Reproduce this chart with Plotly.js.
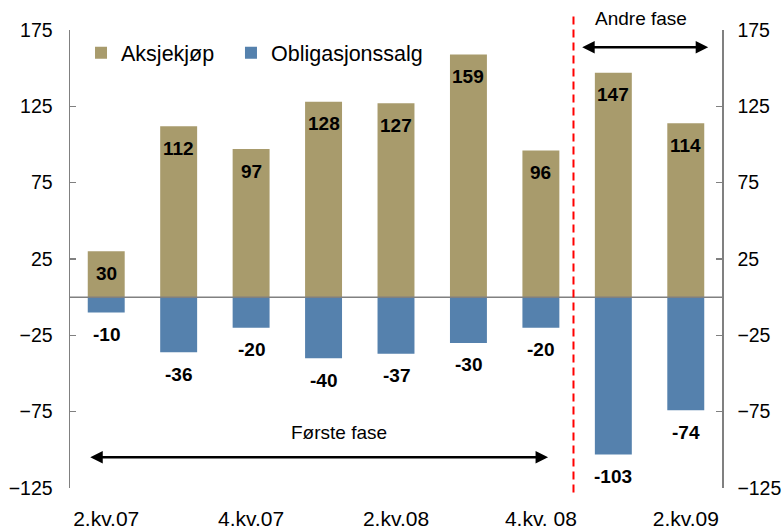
<!DOCTYPE html>
<html><head><meta charset="utf-8">
<script src="https://cdn.plot.ly/plotly-3.0.1.min.js"></script>
<style>html,body{margin:0;padding:0;background:#fff}#chart{width:783px;height:531px}</style>
</head><body><div id="chart"></div>
<script>
const categories = ["2.kv.07","3.kv.07","4.kv.07","1.kv.08","2.kv.08","3.kv.08","4.kv. 08","1.kv.09","2.kv.09"];
const aksjekjop = [30, 112, 97, 128, 127, 159, 96, 147, 114];
const obligasjonssalg = [-10, -36, -20, -40, -37, -30, -20, -103, -74];
const tickLabelIdx = [0, 2, 4, 6, 8];
const yTicks = [175, 125, 75, 25, -25, -75, -125];

const FONT = "Liberation Sans, Arial, sans-serif";
const tan = "#A89B6C", blue = "#5581AD";
const xIdx = categories.map((c, i) => i);

const traces = [
  {type: "bar", name: "Aksjekjøp", x: xIdx, y: aksjekjop, marker: {color: tan}, hoverinfo: "y", legend: "legend"},
  {type: "bar", name: "Obligasjonssalg", x: xIdx, y: obligasjonssalg, marker: {color: blue}, hoverinfo: "y", legend: "legend2"},
  {type: "scatter", x: [0], y: [0], yaxis: "y2", mode: "markers", marker: {opacity: 0}, showlegend: false, hoverinfo: "skip"}
];

const annotations = [];
[aksjekjop, obligasjonssalg].forEach(series => {
  series.forEach((v, i) => annotations.push({
    x: i, y: v, xref: "x", yref: "y", text: String(v), showarrow: false,
    yshift: -22, font: {family: FONT, size: 19, color: "#000", weight: "bold"}
  }));
});
annotations.push(
  {x: 6.57, y: 163.7, ax: 8.33, ay: 163.7, xref: "x", yref: "y", axref: "x", ayref: "y",
   text: "", showarrow: true, arrowside: "end+start", arrowhead: 2, arrowsize: 1, arrowwidth: 2.5, arrowcolor: "#000"},
  {x: 7.386, y: 175, xref: "x", yref: "y", text: "Andre fase", showarrow: false, yshift: 12,
   font: {family: FONT, size: 19, color: "#000"}},
  {x: -0.22, y: -104.8, ax: 6.12, ay: -104.8, xref: "x", yref: "y", axref: "x", ayref: "y",
   text: "", showarrow: true, arrowside: "end+start", arrowhead: 2, arrowsize: 1, arrowwidth: 2.5, arrowcolor: "#000"},
  {x: 3.21, y: -88.4, xref: "x", yref: "y", text: "Første fase", showarrow: false,
   font: {family: FONT, size: 19, color: "#000"}}
);

const yAxisCommon = {
  range: [-125, 175], tickvals: yTicks, ticks: "inside", ticklen: 6, tickcolor: "#808080", tickwidth: 1.5,
  showline: true, linecolor: "#808080", linewidth: 1.5, showgrid: false, zeroline: false,
  tickfont: {family: FONT, size: 19.5, color: "#000"}
};

const legendCommon = {orientation: "h", y: 0.995, xanchor: "left", yanchor: "top",
  font: {family: FONT, size: 21.5, color: "#000"}, itemwidth: 30, bgcolor: "rgba(0,0,0,0)"};

const layout = {
  width: 783, height: 531,
  margin: {l: 70, r: 61, t: 30, b: 43},
  paper_bgcolor: "#fff", plot_bgcolor: "#fff",
  barmode: "relative", bargap: 0.49,
  showlegend: true,
  legend: Object.assign({}, legendCommon, {x: 0.0169}),
  legend2: Object.assign({}, legendCommon, {x: 0.2469}),
  xaxis: {range: [-0.5, 8.5], tickvals: tickLabelIdx, ticktext: tickLabelIdx.map(i => categories[i]),
          showline: false, ticks: "", showgrid: false, zeroline: false,
          tickfont: {family: FONT, size: 21, color: "#000"}, ticklabelstandoff: 16},
  yaxis: Object.assign({}, yAxisCommon, {side: "left", ticklabelstandoff: 12}),
  yaxis2: Object.assign({}, yAxisCommon, {side: "right", overlaying: "y", ticklabelstandoff: 10}),
  shapes: [
    {type: "line", xref: "paper", x0: 0, x1: 1, yref: "y", y0: 0, y1: 0, line: {color: "#808080", width: 1.5}},
    {type: "line", xref: "x", x0: 6.45, x1: 6.45, yref: "paper", y0: -0.01, y1: 1.03,
     line: {color: "#FF0000", width: 2, dash: "8px,5px"}}
  ],
  annotations: annotations
};

Plotly.newPlot("chart", traces, layout, {displayModeBar: false, staticPlot: true});
</script></body></html>
